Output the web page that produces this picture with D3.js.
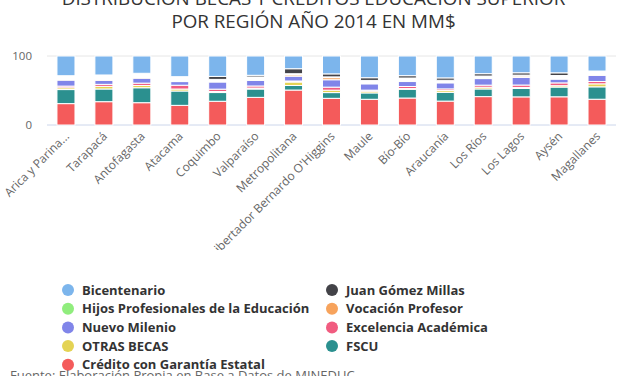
<!DOCTYPE html>
<html>
<head>
<meta charset="utf-8">
<script src="https://cdn.jsdelivr.net/npm/d3@7"></script>
<style>
  body { margin: 0; background: #fff; }
  text { font-family: "Open Sans", sans-serif; }
</style>
</head>
<body>
<div id="chart"></div>
<script>
const regiones = ["Arica y Parina...", "Tarapacá", "Antofagasta", "Atacama", "Coquimbo", "Valparaíso",
  "Metropolitana", "Libertador Bernardo O'Higgins", "Maule", "Bío-Bío", "Araucanía", "Los Ríos",
  "Los Lagos", "Aysén", "Magallanes"];

// porcentajes (aprox.)
const bicentenario = [28.5, 27.5, 25.1, 30, 29.5, 28, 18.4, 25.6, 31.4, 28.5, 31.4, 25.6, 24.2, 24.2, 21.7];
const juanGomez    = [0, 0, 0, 0, 4.3, 2.4, 7.2, 4.3, 3.9, 3.4, 3.4, 3.4, 3.4, 3.9, 0];
const sinDato      = [5.3, 6.3, 5.8, 6.3, 2.9, 4.3, 1, 0.8, 4.3, 4.3, 2.9, 2.9, 1, 4.3, 5.3];
const hijosProf    = [0.3, 0.3, 0.3, 0.3, 0.3, 0.3, 0.5, 0.3, 0.3, 0.3, 0.3, 0.3, 0.3, 0.3, 0.3];
const vocacion     = [0.7, 1.2, 1, 0.5, 0.5, 0.5, 2, 3, 0.3, 0.5, 0.5, 0.5, 2, 0.5, 0.5];
const nuevoMilenio = [8.7, 5.8, 7.2, 5.3, 10.4, 8, 7, 10.6, 9.2, 7.2, 8.7, 9.5, 11, 5.5, 9];
const excelencia   = [2.4, 2.9, 3.4, 5.5, 3.4, 3, 1.5, 4.3, 1.5, 3, 2.4, 3, 3.5, 4, 3.4];
const otrasBecas   = [2.6, 3.8, 3.3, 2.9, 1.5, 1.4, 5, 3.5, 2.5, 1, 2.5, 2.5, 1.5, 2, 4.3];
const fscu         = [20.3, 18.4, 21.7, 20.8, 12.6, 12.1, 6.6, 8.2, 9.2, 12.7, 12.6, 11.1, 12.1, 14, 17.9];
const credito      = [30.9, 33.8, 32.4, 28.5, 34.3, 40.1, 50.5, 38.2, 37.2, 39.1, 34.3, 41.1, 40.6, 40.6, 37.2];

const yTicks = [0, 100];

// orden de apilado: el primero queda arriba
const series = [
  { name: "Bicentenario", values: bicentenario, color: "#7cb5ec" },
  { name: "Juan Gómez Millas", values: juanGomez, color: "#434348" },
  { name: null, values: sinDato, color: "#ffffff" },
  { name: "Hijos Profesionales de la Educación", values: hijosProf, color: "#90ed7d" },
  { name: "Vocación Profesor", values: vocacion, color: "#f7a35c" },
  { name: "Nuevo Milenio", values: nuevoMilenio, color: "#8085e9" },
  { name: "Excelencia Académica", values: excelencia, color: "#f15c80" },
  { name: "OTRAS BECAS", values: otrasBecas, color: "#e4d354" },
  { name: "FSCU", values: fscu, color: "#2b908f" },
  { name: "Crédito con Garantía Estatal", values: credito, color: "#f45b5b" }
];

const W = 627, H = 376;
const margin = { top: 56, right: 11, bottom: 251, left: 47 },
  width = W - margin.left - margin.right,
  height = H - margin.top - margin.bottom;

const svg = d3.select("#chart").append("svg")
  .attr("width", W).attr("height", H);

// titulo
svg.append("text").attr("x", W / 2).attr("y", 5).attr("text-anchor", "middle")
  .style("font-size", "18.8px").style("fill", "#333")
  .text("DISTRIBUCIÓN BECAS Y CRÉDITOS EDUCACIÓN SUPERIOR");
svg.append("text").attr("x", W / 2).attr("y", 28).attr("text-anchor", "middle")
  .style("font-size", "18.8px").style("fill", "#333")
  .text("POR REGIÓN AÑO 2014 EN MM$");

const g = svg.append("g").attr("transform", "translate(" + margin.left + "," + margin.top + ")");

// tabla para d3.stack (del fondo hacia arriba)
const keys = series.map((s, i) => "s" + i).reverse();
const table = regiones.map((r, j) => {
  const row = { region: r };
  series.forEach((s, i) => { row["s" + i] = s.values[j]; });
  return row;
});
const stacked = d3.stack().keys(keys).offset(d3.stackOffsetExpand)(table);

const x = d3.scaleBand().domain(regiones).range([0, width]).paddingInner(0.525).paddingOuter(0.2625);
const y = d3.scaleLinear().domain([0, 1]).range([height, 0]);

// grid
g.selectAll(".grid").data(yTicks).enter().append("line")
  .attr("x1", 0).attr("x2", width)
  .attr("y1", d => y(d / 100)).attr("y2", d => y(d / 100))
  .attr("stroke", d => d === 0 ? "#ccd6eb" : "#e6e6e6").attr("stroke-width", 1);

g.selectAll(".ylab").data(yTicks).enter().append("text")
  .attr("x", -15).attr("y", d => y(d / 100)).attr("dy", "0.35em")
  .attr("text-anchor", "end").style("font-size", "11.5px").style("fill", "#666")
  .text(d => d);

// barras
g.selectAll(".layer").data(stacked).enter().append("g")
  .attr("fill", d => series[+d.key.slice(1)].color)
  .selectAll("rect").data(d => d).enter().append("rect")
  .attr("x", d => x(d.data.region))
  .attr("width", x.bandwidth())
  .attr("y", d => y(d[1]))
  .attr("height", d => Math.max(0, y(d[0]) - y(d[1])))
  .attr("stroke", "#fff").attr("stroke-width", 1);

// etiquetas eje x
svg.append("clipPath").attr("id", "xclip").append("rect")
  .attr("x", 0).attr("y", 0).attr("width", W).attr("height", 250);
const xl = svg.append("g").attr("clip-path", "url(#xclip)");
xl.selectAll("text").data(regiones).enter().append("text")
  .attr("transform", d => "translate(" + (margin.left + x(d) + x.bandwidth() / 2 + 4) + "," + (margin.top + height + 12) + ") rotate(-45)")
  .attr("text-anchor", "end").style("font-size", "12px").style("fill", "#666")
  .text(d => d);

// leyenda
const legendItems = series.filter(s => s.name);
const lg = svg.selectAll(".legend").data(legendItems).enter().append("g")
  .attr("transform", (d, i) => "translate(" + (i % 2 === 0 ? 68 : 332) + "," + (290 + Math.floor(i / 2) * 18.7) + ")");
lg.append("circle").attr("r", 6).attr("fill", d => d.color);
lg.append("text").attr("x", 14).attr("dy", "0.35em")
  .style("font-size", "13px").style("font-weight", "bold").style("fill", "#333")
  .text(d => d.name);

svg.append("text").attr("x", 10).attr("y", 380)
  .style("font-size", "13px").style("fill", "#666")
  .text("Fuente: Elaboración Propia en Base a Datos de MINEDUC");
</script>
</body>
</html>
